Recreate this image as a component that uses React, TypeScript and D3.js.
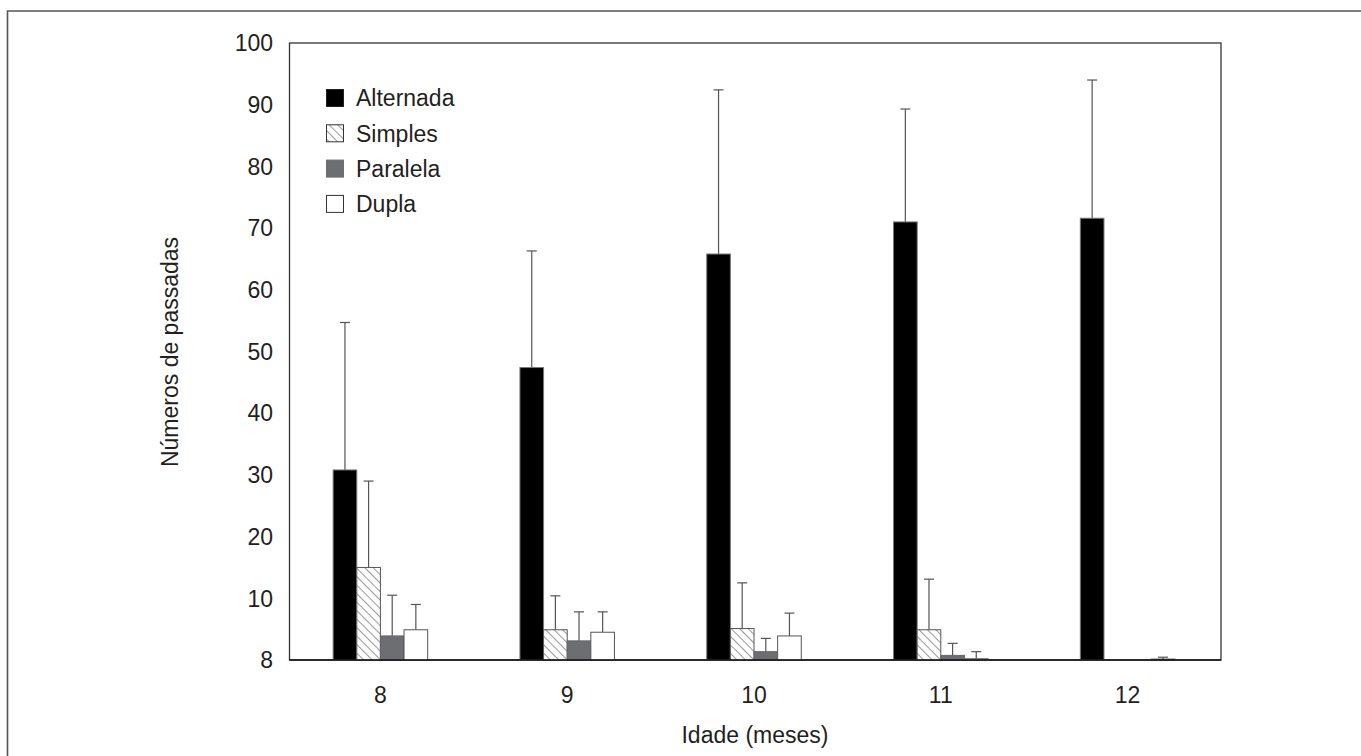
import React from "react";
import * as d3 from "d3";

const W = 1361;
const H = 756;

const ages = ["8", "9", "10", "11", "12"];
const seriesNames = ["Alternada", "Simples", "Paralela", "Dupla"];
const alternada = [30.8, 47.4, 65.8, 71.0, 71.6];
const alternadaErr = [54.7, 66.3, 92.4, 89.3, 94.0];
const simples = [15.0, 4.9, 5.1, 4.9, 0];
const simplesErr = [29.0, 10.4, 12.5, 13.1, 0];
const paralela = [3.9, 3.1, 1.35, 0.75, 0];
const paralelaErr = [10.5, 7.8, 3.5, 2.7, 0];
const dupla = [4.9, 4.5, 3.9, 0.2, 0.15];
const duplaErr = [9.0, 7.8, 7.6, 1.35, 0.45];
const yTicks = [0, 10, 20, 30, 40, 50, 60, 70, 80, 90, 100];
const yTickLabels = ["8", "10", "20", "30", "40", "50", "60", "70", "80", "90", "100"];

const values = [alternada, simples, paralela, dupla];
const errors = [alternadaErr, simplesErr, paralelaErr, duplaErr];

const fills = ["#000000", "url(#hatch)", "#6d6e71", "#ffffff"];
const strokes = ["#777777", "#555555", "#666666", "#555555"];

const plot = { left: 289.5, right: 1221, top: 43, bottom: 660 };
const FONT = "'Liberation Sans', Arial, sans-serif";
const TXT = "#231f20";
const FS = 23;

export default function App() {
  const x = d3
    .scaleBand<string>()
    .domain(ages)
    .range([287, 1221])
    .paddingInner(0.494)
    .paddingOuter(0.247);
  const inner = d3
    .scaleBand<string>()
    .domain(seriesNames)
    .range([0, x.bandwidth()]);
  const y = d3.scaleLinear().domain([0, 100]).range([plot.bottom, plot.top]);

  return (
    <div style={{ position: "absolute", left: 0, top: 0 }}>
      <svg width={W} height={H} style={{ display: "block", background: "#fff" }}>
        <defs>
          <pattern id="hatch" patternUnits="userSpaceOnUse" width={6} height={6} patternTransform="rotate(-45)">
            <rect width={6} height={6} fill="#fff" />
            <line x1={0} y1={0} x2={0} y2={6} stroke="#333" strokeWidth={1} />
          </pattern>
        </defs>
        {/* outer frame */}
        <path d={`M7.5,${H + 5} V11 H${W + 5}`} fill="none" stroke="#555" strokeWidth={1.6} />

        {/* plot frame */}
        <rect
          x={plot.left}
          y={plot.top}
          width={plot.right - plot.left}
          height={plot.bottom - plot.top}
          fill="none"
          stroke="#333"
          strokeWidth={1.3}
        />

        {/* bars */}
        {ages.map((a, i) => (
          <g key={a}>
            {seriesNames.map((s, k) => {
              const v = values[k][i];
              const e = errors[k][i];
              const bx = (x(a) as number) + (inner(s) as number);
              const bw = inner.bandwidth();
              const cx = bx + bw / 2;
              return (
                <g key={s}>
                  {e > v && (
                    <g stroke="#555" strokeWidth={1.2}>
                      <line x1={cx} x2={cx} y1={y(v)} y2={y(e)} />
                      <line x1={cx - 5} x2={cx + 5} y1={y(e)} y2={y(e)} />
                    </g>
                  )}
                  {v > 0 && (
                    <rect
                      x={bx}
                      y={y(v)}
                      width={bw}
                      height={y(0) - y(v)}
                      fill={fills[k]}
                      stroke={strokes[k]}
                      strokeWidth={1}
                    />
                  )}
                </g>
              );
            })}
          </g>
        ))}

        {/* bottom axis line */}
        <line x1={plot.left} x2={plot.right} y1={plot.bottom} y2={plot.bottom} stroke="#111" strokeWidth={1.5} />

        {/* y tick labels */}
        {yTicks.map((t, i) => (
          <text
            key={t}
            x={273}
            y={y(t)}
            dy="0.36em"
            textAnchor="end"
            fontFamily={FONT}
            fontSize={FS}
            fill={TXT}
          >
            {yTickLabels[i]}
          </text>
        ))}

        {/* x tick labels */}
        {ages.map((a) => (
          <text
            key={a}
            x={(x(a) as number) + x.bandwidth() / 2}
            y={703}
            textAnchor="middle"
            fontFamily={FONT}
            fontSize={FS}
            fill={TXT}
          >
            {a}
          </text>
        ))}

        {/* axis titles */}
        <text x={755} y={743} textAnchor="middle" fontFamily={FONT} fontSize={FS} fill={TXT}>
          Idade (meses)
        </text>
        <text
          transform={`translate(178,352) rotate(-90)`}
          textAnchor="middle"
          fontFamily={FONT}
          fontSize={FS}
          fill={TXT}
        >
          Números de passadas
        </text>

        {/* legend */}
        {seriesNames.map((s, k) => {
          const ly = 98 + k * 35.3;
          return (
            <g key={s}>
              <rect
                x={326.5}
                y={ly - 8.5}
                width={17}
                height={17}
                fill={fills[k]}
                stroke={k === 0 ? "#222" : k === 2 ? "#6d6e71" : "#333"}
                strokeWidth={1}
              />
              <text x={356} y={ly} dy="0.36em" fontFamily={FONT} fontSize={FS} fill={TXT}>
                {s}
              </text>
            </g>
          );
        })}
      </svg>
    </div>
  );
}
